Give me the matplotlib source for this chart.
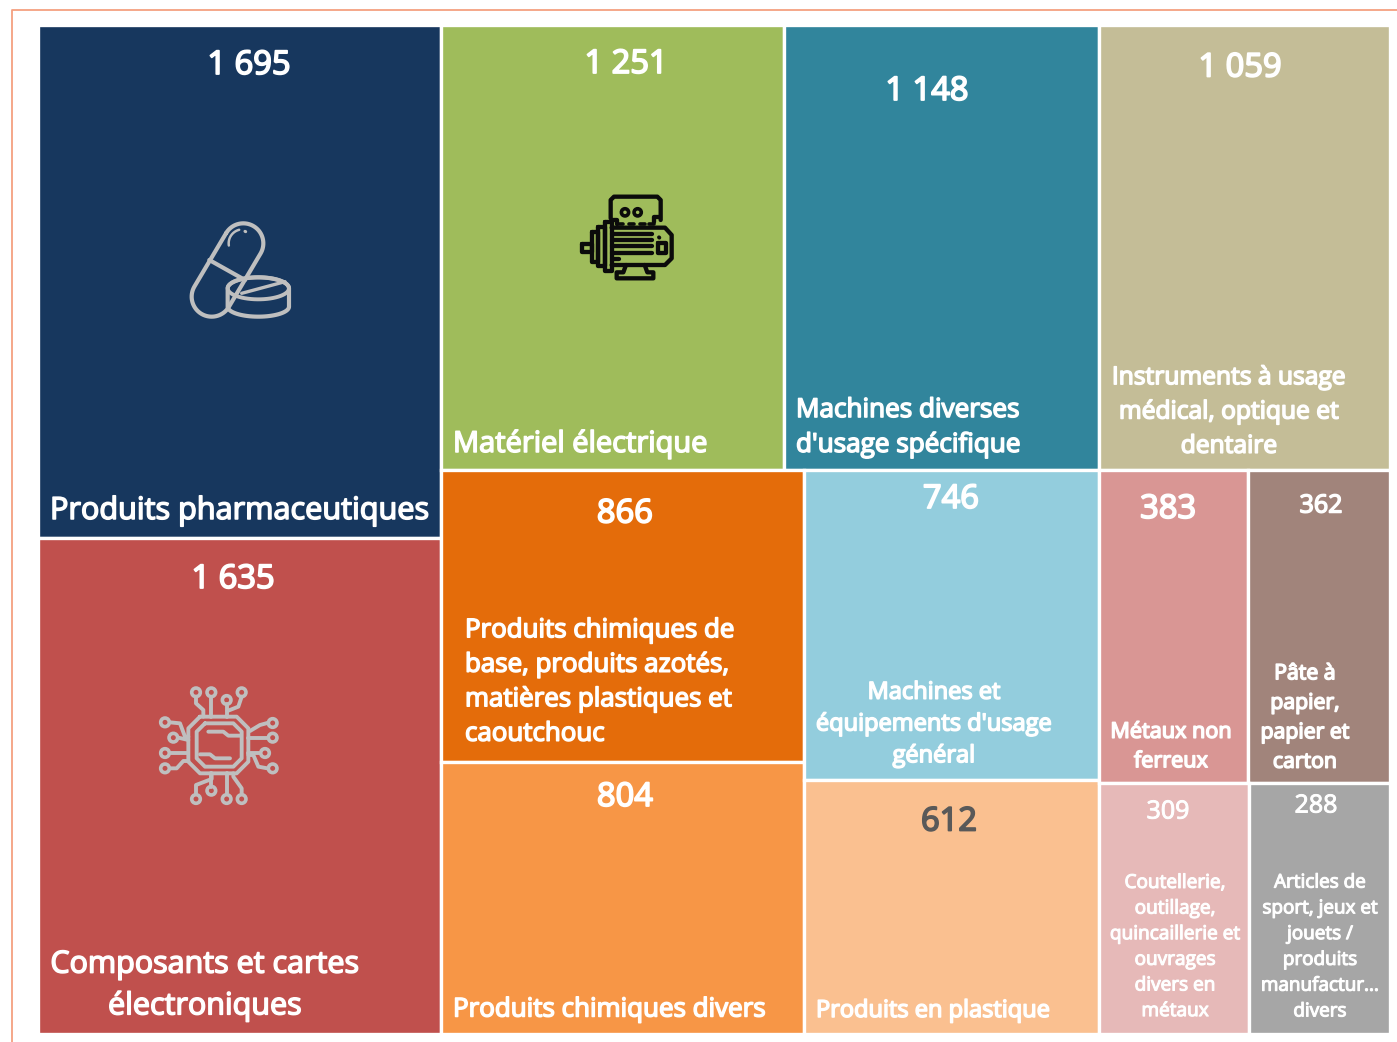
import numpy as np
import matplotlib
matplotlib.use('Agg')
import matplotlib.pyplot as plt
import matplotlib.patheffects as pe
from matplotlib.patches import Rectangle, Circle, Polygon

plt.rcParams['font.family'] = ['Open Sans', 'DejaVu Sans']

# Données
col1_labels = ['Produits pharmaceutiques', 'Composants et cartes\nélectroniques']
col1_values = [1695, 1635]

top_labels = ['Matériel électrique', "Machines diverses\nd'usage spécifique",
              'Instruments à usage\nmédical, optique et\ndentaire']
top_values = [1251, 1148, 1059]

mid1_labels = ['Produits chimiques de\nbase, produits azotés,\nmatières plastiques et\ncaoutchouc',
               'Produits chimiques divers']
mid1_values = [866, 804]

mid2_labels = ["Machines et\néquipements d'usage\ngénéral", 'Produits en plastique']
mid2_values = [746, 612]

small_top_labels = ['Métaux non\nferreux', 'Pâte à\npapier,\npapier et\ncarton']
small_top_values = [383, 362]

small_bot_labels = ['Coutellerie,\noutillage,\nquincaillerie et\nouvrages\ndivers en\nmétaux',
                    'Articles de\nsport, jeux et\njouets /\nproduits\nmanufactur...\ndivers']
small_bot_values = [309, 288]

# Zone du treemap, en pixels
X0, X1, Y0, Y1 = 37.7, 1390, 24.8, 1033.5

fig = plt.figure(figsize=(13.97, 10.42), dpi=100)
ax = fig.add_axes([0, 0, 1, 1])
ax.set_xlim(0, 1397)
ax.set_ylim(1042, 0)
ax.axis('off')

# Cadre orange
ax.plot([12, 12, 1397], [1042, 10, 10], color='#F4A080', lw=1.3, zorder=1)


def split_h(values, x0, x1):
    edges = x0 + (x1 - x0) * np.cumsum([0] + list(values)) / sum(values)
    return list(zip(edges[:-1], edges[1:]))


def split_v(values, y0, y1):
    edges = y0 + (y1 - y0) * np.cumsum([0] + list(values)) / sum(values)
    return list(zip(edges[:-1], edges[1:]))


def tile(xr, yr, color):
    ax.add_patch(Rectangle((xr[0], yr[0]), xr[1] - xr[0], yr[1] - yr[0],
                           facecolor=color, edgecolor='white', lw=2.4, zorder=2))


# Découpage proportionnel aux valeurs
rest = sum(top_values) + sum(mid1_values) + sum(mid2_values) + sum(small_top_values) + sum(small_bot_values)
(xa, xb) = split_h([sum(col1_values), rest], X0, X1)
for yr, c in zip(split_v(col1_values, Y0, Y1), ['#17375E', '#C0504D']):
    tile(xa, yr, c)

yt, yb = split_v([sum(top_values), rest - sum(top_values)], Y0, Y1)
for xr, c in zip(split_h(top_values, *xb), ['#9FBC5B', '#31859C', '#C4BD97']):
    tile(xr, yt, c)

small_total = sum(small_top_values) + sum(small_bot_values)
xm1, xm2, xm3 = split_h([sum(mid1_values), sum(mid2_values), small_total], *xb)
for yr, c in zip(split_v(mid1_values, *yb), ['#E46C0A', '#F79646']):
    tile(xm1, yr, c)
for yr, c in zip(split_v(mid2_values, *yb), ['#93CDDD', '#FAC090']):
    tile(xm2, yr, c)
ys1, ys2 = split_v([sum(small_top_values), sum(small_bot_values)], *yb)
for xr, c in zip(split_h(small_top_values, *xm3), ['#D99694', '#A1847B']):
    tile(xr, ys1, c)
for xr, c in zip(split_h(small_bot_values, *xm3), ['#E6B9B8', '#A6A6A6']):
    tile(xr, ys2, c)


def fmt(v):
    return f'{v:,}'.replace(',', ' ')


def put(x, y, s, size, ha='center', color='white', ls=1.2, stroke=1.1):
    # la graisse semi-bold n'existe pas : on épaissit avec un contour fin
    ax.text(x, y, s, fontsize=size, ha=ha, va='center', color=color, zorder=6,
            linespacing=ls, multialignment=ha,
            path_effects=[pe.withStroke(linewidth=stroke, foreground=color)])


# Valeurs
put(249, 65.5, fmt(col1_values[0]), 23.5, stroke=1.3)
put(233, 579.5, fmt(col1_values[1]), 23.5, stroke=1.3)
put(626, 64.5, fmt(top_values[0]), 23.5, stroke=1.3)
put(927, 91.5, fmt(top_values[1]), 23.5, stroke=1.3)
put(1240, 68, fmt(top_values[2]), 23.5, stroke=1.3)
put(625, 514, fmt(mid1_values[0]), 23.5, stroke=1.3)
put(625, 797.5, fmt(mid1_values[1]), 23.5, stroke=1.3)
put(951, 499.5, fmt(mid2_values[0]), 23.5, stroke=1.3)
put(949, 822, fmt(mid2_values[1]), 23.5, color='#595959', stroke=1.3)
put(1168, 509.5, fmt(small_top_values[0]), 23.5, stroke=1.3)
put(1321, 506, fmt(small_top_values[1]), 18)
put(1168, 812, fmt(small_bot_values[0]), 18, stroke=0.7)
put(1316, 806, fmt(small_bot_values[1]), 18, stroke=0.7)

# Libellés
put(50, 511, col1_labels[0], 22.05, ha='left')
put(205, 986, col1_labels[1], 21.95, ls=1.51)
put(453, 444, top_labels[0], 20.9, ha='left')
put(796, 428, top_labels[1], 18.8, ha='left', ls=1.52)
put(1229, 412, top_labels[2], 17.7, ls=1.49)
put(465, 682.5, mid1_labels[0], 18.65, ha='left', ls=1.5)
put(453, 1010, mid1_labels[1], 18.7, ha='left')
put(934, 724.5, mid2_labels[0], 17.0, ls=1.43)
put(816, 1011, mid2_labels[1], 17.0, ha='left')
put(1171, 747, small_top_labels[0], 15.6, ls=1.525)
put(1305, 718, small_top_labels[1], 15.3, ls=1.53)
put(1175, 947, small_bot_labels[0], 13.7, ls=1.545, stroke=0.8)
put(1320, 947, small_bot_labels[1], 13.6, ls=1.555, stroke=0.8)


# Pictogrammes : coordonnées de zoom 3x -> pixels
def line(pts, ox, oy, color, lw=2.8, close=False):
    pts = np.array(pts, dtype=float)
    if close:
        pts = np.vstack([pts, pts[:1]])
    ax.plot(pts[:, 0] / 3 + ox, pts[:, 1] / 3 + oy, color=color, lw=lw, zorder=5,
            solid_capstyle='round', solid_joinstyle='round')


# Gélules
ox, oy, grey = 170, 200, '#BFBFBF'
c1 = np.array([220, 130])
c2 = np.array([125, 290])
axis_ang = np.arctan2(*(c2 - c1)[::-1])
t1 = np.linspace(axis_ang + np.pi / 2, axis_ang + 3 * np.pi / 2, 40)
t2 = np.linspace(axis_ang - np.pi / 2, axis_ang + np.pi / 2, 40)
caps = np.vstack([c1 + 60 * np.c_[np.cos(t1), np.sin(t1)], c2 + 60 * np.c_[np.cos(t2), np.sin(t2)]])
line(caps, ox, oy, grey, 3.0, close=True)
line([(118, 180), (225, 240)], ox, oy, grey, 3.0)
t = np.linspace(np.pi * 0.95, np.pi * 1.42, 15)
line(np.c_[218 + 42 * np.cos(t), 130 + 42 * np.sin(t)], ox, oy, grey, 1.8)
line([(225, 94), (227, 95)], ox, oy, grey, 2.2)
t = np.linspace(0, np.pi, 40)
tablet = np.vstack([np.c_[265 + 92 * np.cos(t), 265 - 33 * np.sin(t)],
                    np.c_[265 - 92 * np.cos(t), 320 + 30 * np.sin(t)]])
ax.add_patch(Polygon(np.c_[tablet[:, 0] / 3 + ox, tablet[:, 1] / 3 + oy], closed=True,
                     facecolor='#17375E', edgecolor=grey, lw=3.0, zorder=4))
t = np.linspace(0, 2 * np.pi, 60)
line(np.c_[265 + 92 * np.cos(t), 265 + 33 * np.sin(t)], ox, oy, grey, 2.8)
line([(215, 280), (345, 245)], ox, oy, grey, 2.4)

# Moteur
ox, oy, black = 570, 185, '#0B0B0B'
mlw = 3.1
line([(122, 100), (122, 45), (132, 35), (262, 35), (272, 45), (272, 105)], ox, oy, black, mlw)
for cx in (165, 203):
    ax.add_patch(Circle((cx / 3 + ox, 82 / 3 + oy), 3.6, facecolor='none', edgecolor=black, lw=2.6, zorder=5))
line([(125, 105), (142, 105), (142, 118)], ox, oy, black, mlw)
line([(252, 110), (252, 95), (270, 95)], ox, oy, black, mlw)
line([(125, 128), (285, 128), (305, 150), (305, 220), (285, 240), (125, 240)], ox, oy, black, mlw)
for dx in (150, 185, 218, 245):
    line([(dx - 8, 118), (dx + 8, 118)], ox, oy, black, 2.6)
for ry in (147, 165, 183, 203):
    line([(125, ry), (245, ry)], ox, oy, black, mlw)
line([(125, 222), (148, 222)], ox, oy, black, mlw)
line([(105, 110), (125, 110), (125, 258), (105, 258)], ox, oy, black, mlw, close=True)
line([(85, 125), (105, 125), (105, 243), (85, 243)], ox, oy, black, mlw, close=True)
line([(67, 140), (85, 140), (85, 232), (67, 232)], ox, oy, black, mlw, close=True)
line([(35, 178), (67, 178), (67, 200), (35, 200)], ox, oy, black, mlw, close=True)
line([(168, 240), (160, 262), (140, 262), (140, 280), (250, 280), (250, 262), (232, 262), (224, 240)], ox, oy, black, mlw)
line([(265, 175), (288, 175), (288, 205), (265, 205)], ox, oy, black, mlw, close=True)
line([(267, 157), (268, 158)], ox, oy, black)

# Puce
ox, oy = 150, 675
line([(150, 125), (260, 125), (295, 160), (295, 260), (260, 295), (150, 295), (115, 260), (115, 160)],
     ox, oy, grey, close=True)
line([(165, 145), (250, 145), (275, 170), (275, 250), (250, 275), (165, 275), (140, 250), (140, 170)],
     ox, oy, grey, close=True)
line([(175, 170), (220, 170), (235, 182), (270, 182)], ox, oy, grey)
line([(150, 238), (180, 238), (195, 250), (240, 250)], ox, oy, grey)
pins = [
    [(138, 65), (138, 85), (160, 105), (160, 125)],
    [(184, 65), (184, 125)],
    [(230, 88), (230, 125)],
    [(275, 65), (265, 95), (232, 108)],
    [(60, 142), (90, 145), (105, 185), (115, 185)],
    [(85, 188), (115, 195)],
    [(60, 234), (115, 234)],
    [(60, 280), (80, 280), (100, 258), (115, 258)],
    [(352, 144), (330, 150), (300, 168)],
    [(352, 188), (295, 188)],
    [(330, 234), (295, 234)],
    [(352, 280), (325, 275), (310, 240), (295, 240)],
    [(138, 355), (138, 330), (185, 312), (185, 295)],
    [(184, 335), (184, 295)],
    [(230, 355), (230, 295)],
    [(275, 355), (275, 340), (250, 305), (250, 295)],
]
heads = [(138, 52), (184, 52), (230, 75), (275, 52), (45, 142), (70, 188), (45, 234), (45, 280),
         (368, 144), (368, 188), (345, 234), (368, 280), (138, 372), (184, 347), (230, 372), (275, 372)]
for p in pins:
    line(p, ox, oy, grey)
for hx, hy in heads:
    ax.add_patch(Circle((hx / 3 + ox, hy / 3 + oy), 4.3, facecolor='none', edgecolor=grey, lw=2.6, zorder=5))

fig.savefig('out.png', dpi=100)
